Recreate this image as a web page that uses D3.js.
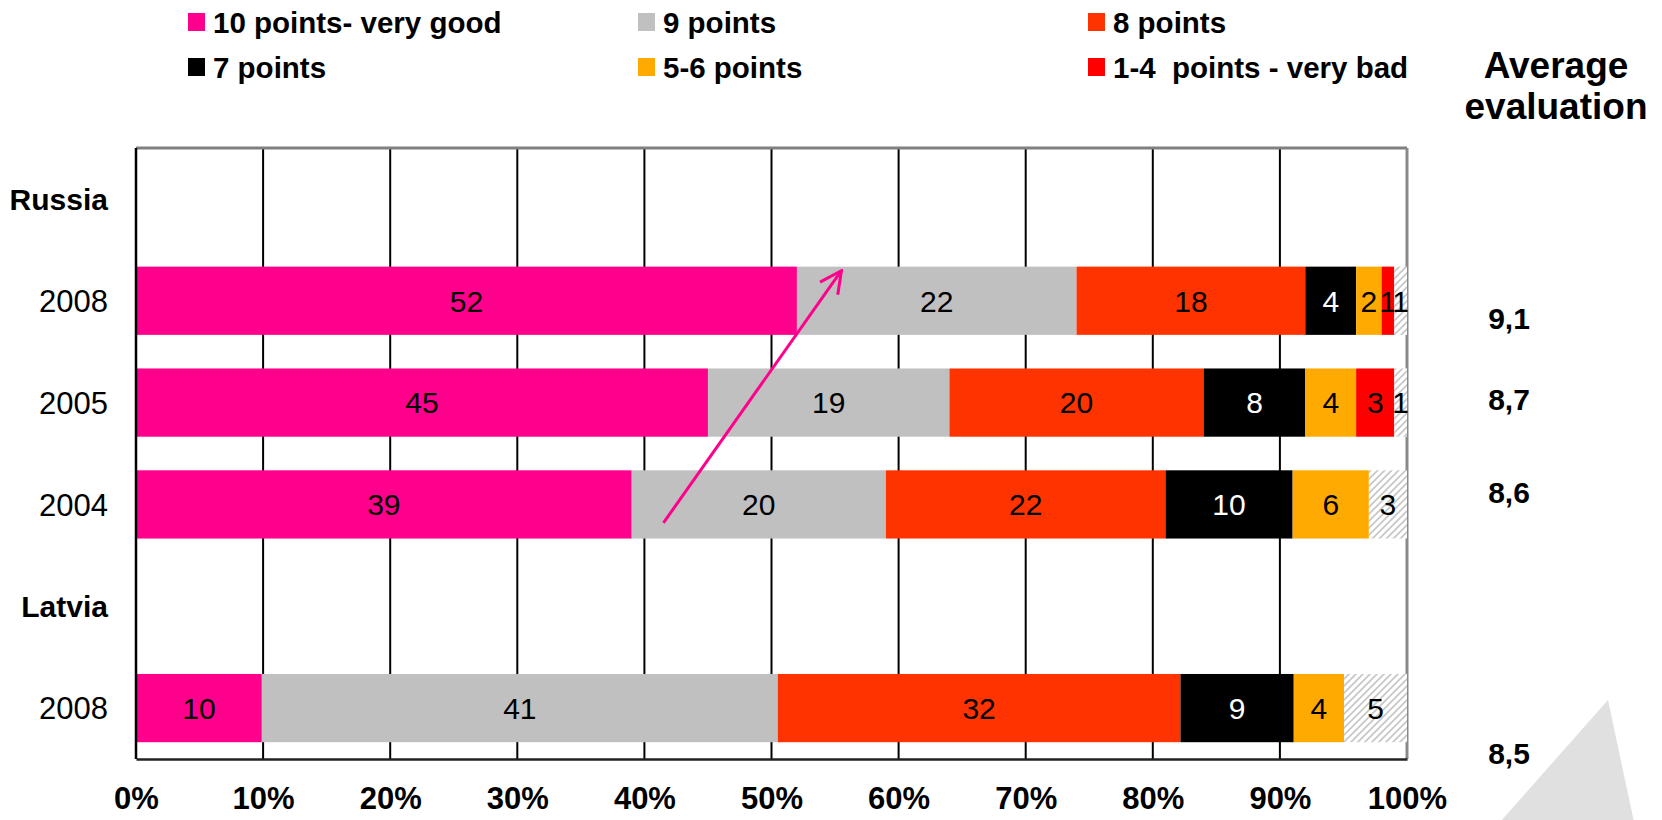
<!DOCTYPE html>
<html lang="en">
<head>
    <meta charset="UTF-8">
    <title>Evaluation</title>
    <script src="https://d3js.org/d3.v7.min.js"></script>
    <style>
    body { margin: 0; background: #fff; }
    svg { display: block; font-family: Arial, "Liberation Sans", sans-serif; }
    </style>
</head>
<body>
    <div id="chart"></div>
    <script>
    // rows of the chart (header rows have no bar)
    var rowKeys = ["Russia", "Russia 2008", "Russia 2005", "Russia 2004", "Latvia", "Latvia 2008"];
    var rowLabels = ["Russia", "2008", "2005", "2004", "Latvia", "2008"];
    var headerRows = ["Russia", "Latvia"];

    var barRows = ["Russia 2008", "Russia 2005", "Russia 2004", "Latvia 2008"];
    var seriesNames = ["10 points- very good", "9 points", "8 points", "7 points", "5-6 points", "1-4  points - very bad", "no answer"];
    var seriesColors = ["#ff008c", "#c0c0c0", "#ff3300", "#000000", "#ffaa00", "#ff0000", "url(#hatch)"];

    var v10 = [52, 45, 39, 10];
    var v9 = [22, 19, 20, 41];
    var v8 = [18, 20, 22, 32];
    var v7 = [4, 8, 10, 9];
    var v56 = [2, 4, 6, 4];
    var v14 = [1, 3, 0, 0];
    var vNA = [1, 1, 3, 5];

    var avgEval = ["9,1", "8,7", "8,6", "8,5"];
    // the average labels sit a little off the bar centres in the original
    var avgShift = [17, -3, -12, 45];

    var tickValues = [0, 0.1, 0.2, 0.3, 0.4, 0.5, 0.6, 0.7, 0.8, 0.9, 1];

    var W = 1662, H = 820;
    var margin = {top: 148, right: 255, bottom: 61, left: 136};

    var table = barRows.map(function(r, i) {
        return {row: r, s0: v10[i], s1: v9[i], s2: v8[i], s3: v7[i], s4: v56[i], s5: v14[i], s6: vNA[i]};
    });
    var keys = ["s0", "s1", "s2", "s3", "s4", "s5", "s6"];

    var stacked = d3.stack()
        .keys(keys)
        .offset(d3.stackOffsetExpand)(table);

    var x = d3.scaleLinear()
        .domain([0, 1])
        .range([margin.left, W - margin.right]);

    var y = d3.scaleBand()
        .domain(rowKeys)
        .range([margin.top, H - margin.bottom])
        .paddingInner(0.33)
        .paddingOuter(0.165);

    var svg = d3.select("#chart")
        .append("svg")
        .attr("width", W)
        .attr("height", H);

    var defs = svg.append("defs");
    var hatch = defs.append("pattern")
        .attr("id", "hatch")
        .attr("patternUnits", "userSpaceOnUse")
        .attr("width", 7)
        .attr("height", 7);
    hatch.append("rect").attr("width", 7).attr("height", 7).attr("fill", "#fff");
    hatch.append("path")
        .attr("d", "M-2,2 l4,-4 M0,7 l7,-7 M5,9 l4,-4")
        .attr("stroke", "#c8c8c8")
        .attr("stroke-width", 1.8);

    defs.append("marker")
        .attr("id", "arrowhead")
        .attr("viewBox", "0 0 12 12")
        .attr("refX", 11)
        .attr("refY", 6)
        .attr("markerUnits", "userSpaceOnUse")
        .attr("markerWidth", 26)
        .attr("markerHeight", 26)
        .attr("orient", "auto")
        .append("path")
        .attr("d", "M1,1 L11,6 L1,11")
        .attr("fill", "none")
        .attr("stroke", "#ff008c")
        .attr("stroke-width", 1.4);

    // decorative grey triangle in the lower right corner
    svg.append("path")
        .attr("d", "M1608,700 L1500,822 L1634,822 Z")
        .attr("fill", "#e0e0e0");

    // vertical gridlines
    svg.append("g")
        .selectAll("line")
        .data(tickValues.slice(1, -1))
        .enter()
        .append("line")
        .attr("x1", d => x(d))
        .attr("x2", d => x(d))
        .attr("y1", margin.top)
        .attr("y2", H - margin.bottom)
        .attr("stroke", "#000")
        .attr("stroke-width", 2);

    // frame
    svg.append("line")
        .attr("x1", x(0)).attr("x2", x(1))
        .attr("y1", margin.top).attr("y2", margin.top)
        .attr("stroke", "#808080").attr("stroke-width", 3);
    svg.append("line")
        .attr("x1", x(1)).attr("x2", x(1))
        .attr("y1", margin.top).attr("y2", H - margin.bottom)
        .attr("stroke", "#8a8a8a").attr("stroke-width", 3);

    // bars
    var layer = svg.append("g")
        .selectAll("g")
        .data(stacked)
        .enter()
        .append("g")
        .attr("fill", (d, i) => seriesColors[i]);

    layer.selectAll("rect")
        .data(d => d)
        .enter()
        .append("rect")
        .attr("x", d => x(d[0]))
        .attr("width", d => x(d[1]) - x(d[0]))
        .attr("y", d => y(d.data.row))
        .attr("height", y.bandwidth());

    layer.selectAll("text")
        .data((d, i) => d.map(p => ({p: p, key: d.key, idx: i})))
        .enter()
        .filter(d => d.p.data[d.key] > 0)
        .append("text")
        .attr("x", d => (x(d.p[0]) + x(d.p[1])) / 2)
        .attr("y", d => y(d.p.data.row) + y.bandwidth() / 2)
        .attr("dy", "0.36em")
        .attr("text-anchor", "middle")
        .attr("font-size", 30)
        .attr("fill", d => d.idx === 3 ? "#fff" : "#000")
        .text(d => d.p.data[d.key]);

    // axes
    svg.append("line")
        .attr("x1", x(0)).attr("x2", x(0))
        .attr("y1", margin.top).attr("y2", H - margin.bottom)
        .attr("stroke", "#000").attr("stroke-width", 2.5);

    var xAxis = svg.append("g")
        .attr("transform", "translate(0," + (H - margin.bottom) + ")")
        .call(d3.axisBottom(x).tickValues(tickValues).tickSize(0).tickPadding(28).tickFormat(d3.format(".0%")));
    xAxis.select(".domain").attr("stroke", "#222").attr("stroke-width", 2.5);
    xAxis.selectAll("text")
        .attr("font-size", 31)
        .attr("font-weight", "bold")
        .attr("font-family", "Arial, 'Liberation Sans', sans-serif")
        .attr("fill", "#000");

    // row labels
    svg.append("g")
        .selectAll("text")
        .data(rowKeys)
        .enter()
        .append("text")
        .attr("x", margin.left - 28)
        .attr("y", d => y(d) + y.bandwidth() / 2)
        .attr("dy", "0.36em")
        .attr("text-anchor", "end")
        .attr("font-size", d => headerRows.indexOf(d) >= 0 ? 30 : 31)
        .attr("font-weight", d => headerRows.indexOf(d) >= 0 ? "bold" : "normal")
        .text((d, i) => rowLabels[i]);

    // average evaluation
    svg.append("text")
        .attr("x", 1556)
        .attr("y", 78)
        .attr("text-anchor", "middle")
        .attr("font-size", 37)
        .attr("font-weight", "bold")
        .text("Average");
    svg.append("text")
        .attr("x", 1556)
        .attr("y", 119)
        .attr("text-anchor", "middle")
        .attr("font-size", 37)
        .attr("font-weight", "bold")
        .text("evaluation");

    svg.append("g")
        .selectAll("text")
        .data(barRows)
        .enter()
        .append("text")
        .attr("x", 1509)
        .attr("y", (d, i) => y(d) + y.bandwidth() / 2 + avgShift[i])
        .attr("dy", "0.36em")
        .attr("text-anchor", "middle")
        .attr("font-size", 30)
        .attr("font-weight", "bold")
        .text((d, i) => avgEval[i]);

    // legend (six rated categories, three per row)
    var legend = svg.append("g")
        .selectAll("g")
        .data(seriesNames.slice(0, 6))
        .enter()
        .append("g")
        .attr("transform", (d, i) => "translate(" + (188 + (i % 3) * 450) + "," + (13 + Math.floor(i / 3) * 45) + ")");
    legend.append("rect")
        .attr("width", 17)
        .attr("height", 18)
        .attr("fill", (d, i) => seriesColors[i]);
    legend.append("text")
        .attr("x", 25)
        .attr("y", 20)
        .attr("font-size", 29.5)
        .attr("font-weight", "bold")
        .style("white-space", "pre")
        .text(d => d);

    // trend arrow from 2004 to 2008
    svg.append("line")
        .attr("x1", x(0.415))
        .attr("y1", y("Russia 2004") + y.bandwidth() * 0.77)
        .attr("x2", x(0.555))
        .attr("y2", y("Russia 2008") + y.bandwidth() * 0.06)
        .attr("stroke", "#ff008c")
        .attr("stroke-width", 3)
        .attr("marker-end", "url(#arrowhead)");
    </script>
</body>
</html>
